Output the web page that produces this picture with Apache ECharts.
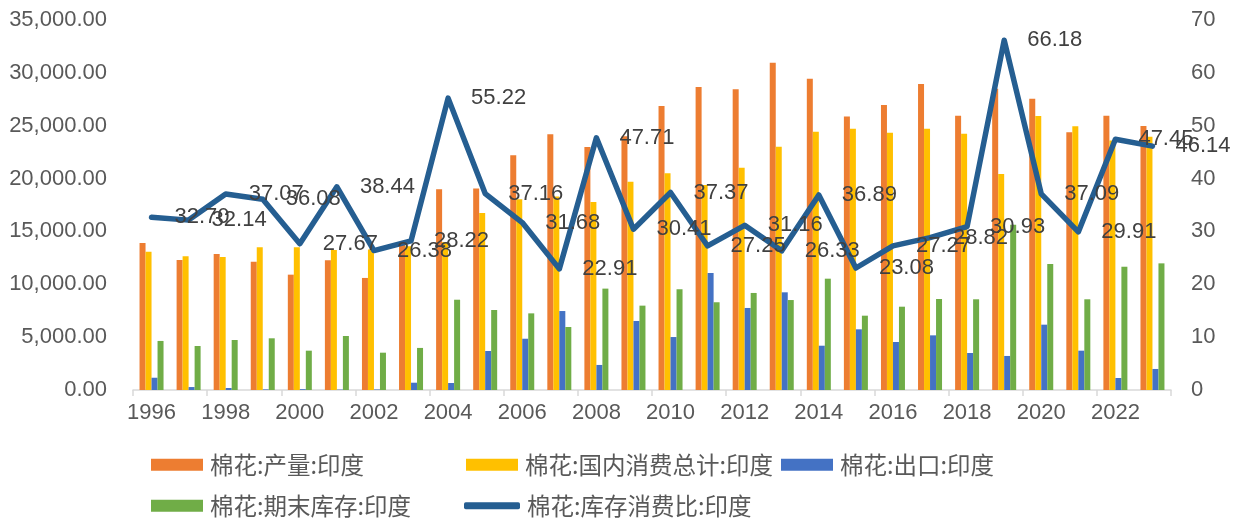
<!DOCTYPE html>
<html>
<head>
<meta charset="utf-8">
<script src="https://cdn.jsdelivr.net/npm/echarts@6/dist/echarts.min.js"></script>
<style>
html,body{margin:0;padding:0;background:#fff;}
#c{width:1234px;height:523px;}
</style>
</head>
<body>
<div id="c"></div>
<script>
var years = ['1996','1997','1998','1999','2000','2001','2002','2003','2004','2005','2006','2007','2008','2009','2010','2011','2012','2013','2014','2015','2016','2017','2018','2019','2020','2021','2022','2023'];
var production = [13900,12300,12870,12140,10910,12270,10600,13900,18990,19050,22200,24190,22990,24000,26870,28660,28450,30960,29450,25860,26960,28950,25950,28500,27560,24370,25950,24970];
var consumption = [13080,12650,12580,13500,13500,13240,13300,13600,14000,16740,18040,18300,17790,19710,20500,19400,21030,23020,24440,24720,24340,24720,24250,20430,25920,24940,23600,23960];
var exportsArr = [1160,280,190,60,80,40,50,690,660,3690,4850,7470,2370,6530,5010,11070,7760,9240,4190,5740,4540,5170,3500,3220,6180,3720,1135,1990];
var stocks = [4640,4160,4730,4890,3720,5110,3530,3980,8540,7570,7250,5960,9590,7980,9530,8300,9180,8510,10530,7030,7880,8610,8580,15640,11920,8580,11660,11980];
var ratio = [32.70,32.14,37.07,36.08,27.67,38.44,26.38,28.22,55.22,37.16,31.68,22.91,47.71,30.41,37.37,27.25,31.16,26.33,36.89,23.08,27.27,28.82,30.93,66.18,37.09,29.91,47.45,46.14];
var leftTicks = {min:0, max:35000, interval:5000};
var rightTicks = {min:0, max:70, interval:10};
var names = ['棉花:产量:印度','棉花:国内消费总计:印度','棉花:出口:印度','棉花:期末库存:印度','棉花:库存消费比:印度'];

var numFont = 'Liberation Sans, Arial, sans-serif';
var cjkFont = '"Noto Sans CJK SC", sans-serif';
function fmt(v){ return v.toLocaleString('en-US',{minimumFractionDigits:2, maximumFractionDigits:2}); }

function leg(name, left, top, opts){
  var o = {
    data:[name], left:left, top:top, itemWidth:52, itemHeight:12, itemGap:0, padding:0,
    icon:'rect', selectedMode:false,
    textStyle:{fontFamily:cjkFont, fontSize:23.5, color:'#595959', padding:[0,0,0,2]}
  };
  if (opts) for (var k in opts) o[k]=opts[k];
  return o;
}

var chart = echarts.init(document.getElementById('c'));
chart.setOption({
  animation:false,
  color:['#ED7D31','#FFC000','#4472C4','#70AD47','#255E91'],
  grid:{left:133, right:63, top:20, bottom:133, containLabel:false},
  legend:[
    leg(names[0], 151, 453),
    leg(names[1], 466, 453),
    leg(names[2], 781, 453),
    leg(names[3], 151, 494),
    leg(names[4], 464, 494, {icon:'roundRect', itemWidth:56, itemHeight:7, itemStyle:{color:'#255E91'}})
  ],
  xAxis:{
    type:'category', data:years, boundaryGap:true,
    axisLine:{lineStyle:{color:'#d9d9d9', width:1.5}},
    axisTick:{show:true, interval:1, alignWithLabel:false, length:6, lineStyle:{color:'#d9d9d9', width:1.5}},
    axisLabel:{interval:1, margin:12, fontFamily:numFont, fontSize:22, color:'#595959'}
  },
  yAxis:[
    {type:'value', min:leftTicks.min, max:leftTicks.max, interval:leftTicks.interval,
     splitLine:{show:false}, axisLine:{show:false}, axisTick:{show:false},
     axisLabel:{margin:26, fontFamily:numFont, fontSize:22, color:'#595959', formatter:fmt}},
    {type:'value', min:rightTicks.min, max:rightTicks.max, interval:rightTicks.interval,
     splitLine:{show:false}, axisLine:{show:false}, axisTick:{show:false},
     axisLabel:{margin:20, fontFamily:numFont, fontSize:22, color:'#595959'}}
  ],
  series:[
    {name:names[0], type:'bar', data:production, barWidth:6, barGap:'0%'},
    {name:names[1], type:'bar', data:consumption, barWidth:6, barGap:'0%'},
    {name:names[2], type:'bar', data:exportsArr, barWidth:6, barGap:'0%'},
    {name:names[3], type:'bar', data:stocks, barWidth:6, barGap:'0%'},
    {name:names[4], type:'line', yAxisIndex:1, data:ratio, symbol:'circle', symbolSize:4, showSymbol:true,
     lineStyle:{width:5.5, color:'#255E91', cap:'round', join:'round'},
     itemStyle:{color:'rgba(0,0,0,0)', borderWidth:0},
     emphasis:{disabled:true},
     label:{show:true, position:'right', distance:21, fontFamily:numFont, fontSize:22, color:'#404040',
            formatter:function(p){return p.value.toFixed(2);}},
     labelLayout:{hideOverlap:false},
     z:5}
  ]
});
</script>
</body>
</html>
